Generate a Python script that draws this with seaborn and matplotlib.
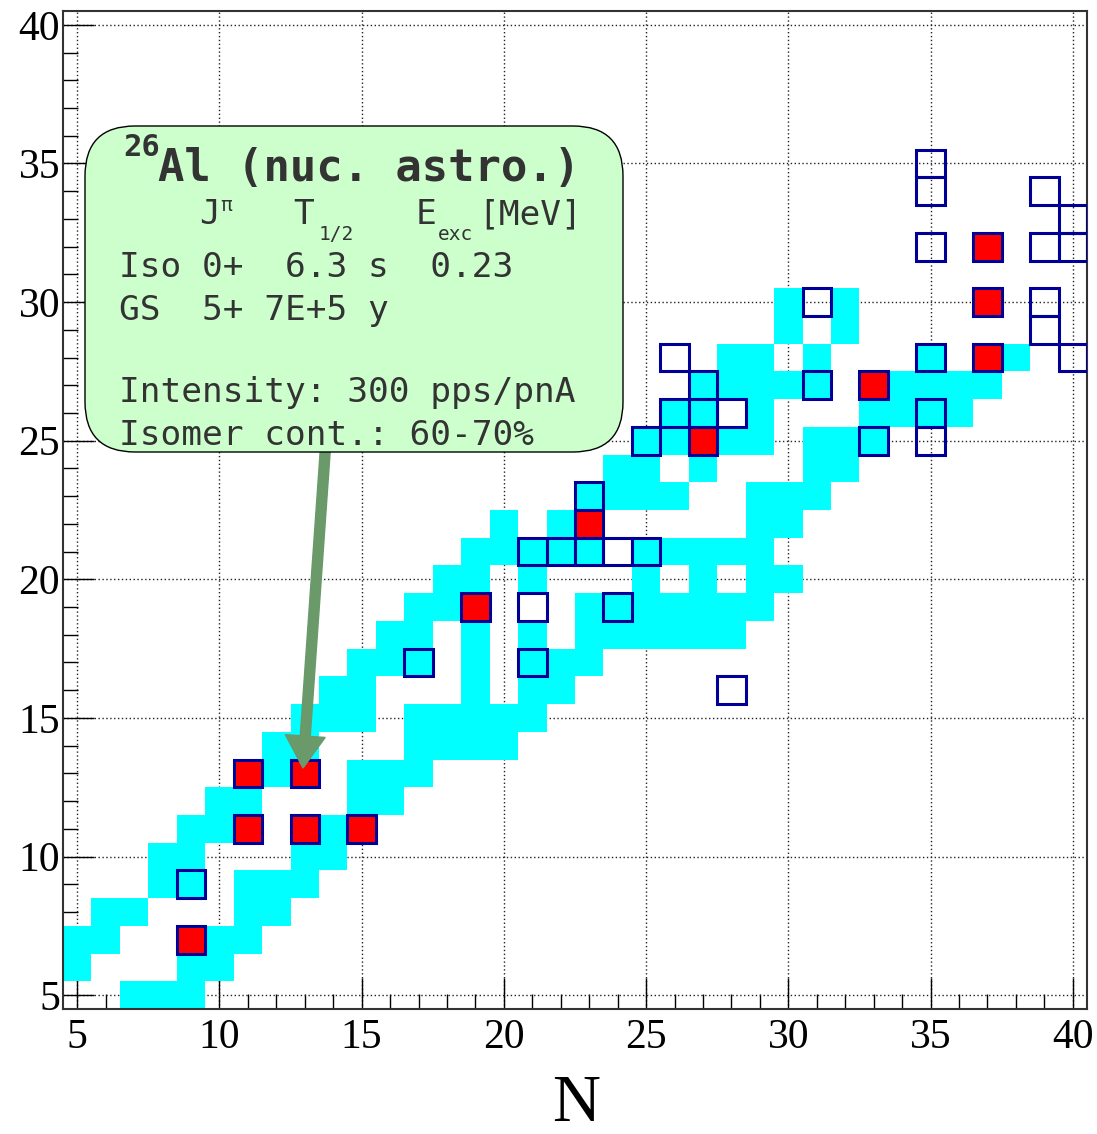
import numpy as np
import pandas as pd
import matplotlib
matplotlib.use("Agg")
import matplotlib.pyplot as plt
import seaborn as sns
from matplotlib.colors import ListedColormap
from matplotlib.patches import Rectangle, FancyBboxPatch, FancyArrow

# ---------------- data ----------------
# cyan cells: one list of N values per proton number Z
cyan_Z_rows = [5, 6, 7, 8, 9, 10, 11, 12, 13, 14, 15, 16, 17, 18, 19, 20,
               21, 22, 23, 24, 25, 26, 27, 28, 29, 30]
cyan_N_by_row = [
    [7, 8, 9],
    [5, 9, 10],
    [5, 6, 10, 11],
    [6, 7, 11, 12],
    [8, 9, 11, 12, 13],
    [8, 9, 13, 14],
    [9, 10, 14],
    [10, 11, 15, 16],
    [12, 15, 16, 17],
    [12, 13, 17, 18, 19, 20],
    [13, 14, 15, 17, 18, 19, 20, 21],
    [14, 15, 19, 21, 22],
    [15, 16, 17, 19, 21, 22, 23],
    [16, 17, 19, 21, 23, 24, 25, 26, 27, 28],
    [17, 18, 23, 24, 25, 26, 27, 28, 29],
    [18, 19, 21, 25, 27, 29, 30],
    [19, 20, 21, 22, 23, 25, 26, 27, 28, 29],
    [20, 22, 29, 30],
    [23, 24, 25, 26, 29, 30, 31],
    [24, 25, 27, 31, 32],
    [25, 26, 28, 29, 31, 32, 33],
    [26, 27, 29, 33, 34, 35, 36],
    [27, 28, 29, 30, 31, 34, 35, 36, 37],
    [28, 29, 31, 35, 38],
    [30, 32],
    [30, 32],
]

# red (filled) markers
red_N = [9, 11, 13, 15, 11, 13, 19, 23, 27, 33, 37, 37, 37]
red_Z = [7, 11, 11, 11, 13, 13, 19, 22, 25, 27, 28, 30, 32]

# open (outlined) markers
open_N = [9, 17, 21, 21, 24, 21, 22, 23, 24, 25, 23, 25, 26, 27, 28, 27, 26,
          31, 31, 28, 33, 35, 35, 35, 35, 35, 35, 39, 40, 39, 40, 39, 39, 40]
open_Z = [9, 17, 19, 17, 19, 21, 21, 21, 21, 21, 23, 25, 26, 26, 26, 27, 28,
          27, 30, 16, 25, 25, 26, 28, 32, 34, 35, 34, 33, 32, 32, 30, 29, 28]

x_ticks = [5, 10, 15, 20, 25, 30, 35, 40]
y_ticks = [5, 10, 15, 20, 25, 30, 35, 40]

# ---------------- figure ----------------
W, H = 1097, 1134
sns.set_style("white")
plt.rcParams["font.family"] = ["Liberation Serif", "DejaVu Serif"]

fig = plt.figure(figsize=(W / 100, H / 100), dpi=100)
ax = fig.add_axes([63 / W, 1 - 1009 / H, 1024 / W, 998 / H])

cyan_df = pd.DataFrame({
    "N": [n for row in cyan_N_by_row for n in row],
    "Z": [z for z, row in zip(cyan_Z_rows, cyan_N_by_row) for _ in row],
})
red_df = pd.DataFrame({"N": red_N, "Z": red_Z})

sns.histplot(data=cyan_df, x="N", y="Z", discrete=True,
             cmap=ListedColormap(["#00ffff"]), ax=ax, zorder=1)
sns.histplot(data=red_df, x="N", y="Z", discrete=True,
             cmap=ListedColormap(["#ff0000"]), ax=ax, zorder=2)

for n, z in zip(red_N + open_N, red_Z + open_Z):
    ax.add_patch(Rectangle((n - 0.5, z - 0.5), 1, 1, fill=False,
                           edgecolor="#000099", linewidth=2.2, zorder=3))

ax.set_xlim(4.5, 40.5)
ax.set_ylim(4.5, 40.5)
ax.set_xticks(x_ticks)
ax.set_yticks(y_ticks)
ax.set_xticks(range(5, 41), minor=True)
ax.set_yticks(range(5, 41), minor=True)
ax.set_xticklabels([str(t) for t in x_ticks])
ax.set_yticklabels([str(t) for t in y_ticks])
ax.set_xlabel("")
ax.set_ylabel("")

ax.tick_params(axis="both", which="both", direction="in", colors="black",
               left=True, bottom=True, top=False, right=False)
ax.tick_params(axis="both", which="major", length=22, width=1.0,
               labelsize=30)
ax.tick_params(axis="both", which="minor", length=11, width=1.0)
ax.tick_params(axis="x", which="major", pad=7)
ax.tick_params(axis="y", which="major", pad=2)

ax.grid(True, which="major", color="#222222", linestyle=(0, (1, 1.8)),
        linewidth=1.0)
ax.set_axisbelow(True)
for sp in ax.spines.values():
    sp.set_color("#333333")
    sp.set_linewidth(1.5)
    sp.set_visible(True)

# ---------------- overlay (pixel coordinates) ----------------
ov = fig.add_axes([0, 0, 1, 1])
ov.set_xlim(0, W)
ov.set_ylim(H, 0)
ov.axis("off")
ov.patch.set_alpha(0)

ov.text(576, 1121, "N", ha="center", va="baseline", fontsize=48,
        fontfamily="Liberation Serif", color="black")

green = "#6a996a"
ov.add_patch(FancyArrow(326, 440, -23, 328, width=10, head_width=40,
                        head_length=32, length_includes_head=True,
                        color=green, zorder=4))

ov.add_patch(FancyBboxPatch((85, 126), 538, 326,
                            boxstyle="round,pad=0,rounding_size=50",
                            facecolor="#ccffcc", edgecolor="black",
                            linewidth=1.0, zorder=5))

mono = "DejaVu Sans Mono"
tc = "#333333"
fs = 24.8
fs_small = 14


def t(x, y, s, size=fs, bold=False):
    ov.text(x, y, s, fontfamily=mono, fontsize=size, color=tc,
            fontweight="bold" if bold else "normal",
            ha="left", va="baseline", zorder=6)


t(123, 156, "26", size=22, bold=True)
t(158, 181, "Al (nuc. astro.)", size=31.6, bold=True)
t(199, 224, "J")
t(220, 211, "\u03c0", size=fs_small)
t(293, 224, "T")
t(319, 240, "1/2", size=fs_small)
t(416, 224, "E")
t(438, 240, "exc", size=fs_small)
t(478, 224, "[MeV]")
t(119, 277, "Iso 0+  6.3 s  0.23")
t(119, 320, "GS  5+ 7E+5 y")
t(119, 402, "Intensity: 300 pps/pnA")
t(119, 445, "Isomer cont.: 60-70%")

fig.savefig("out.png", dpi=100)
